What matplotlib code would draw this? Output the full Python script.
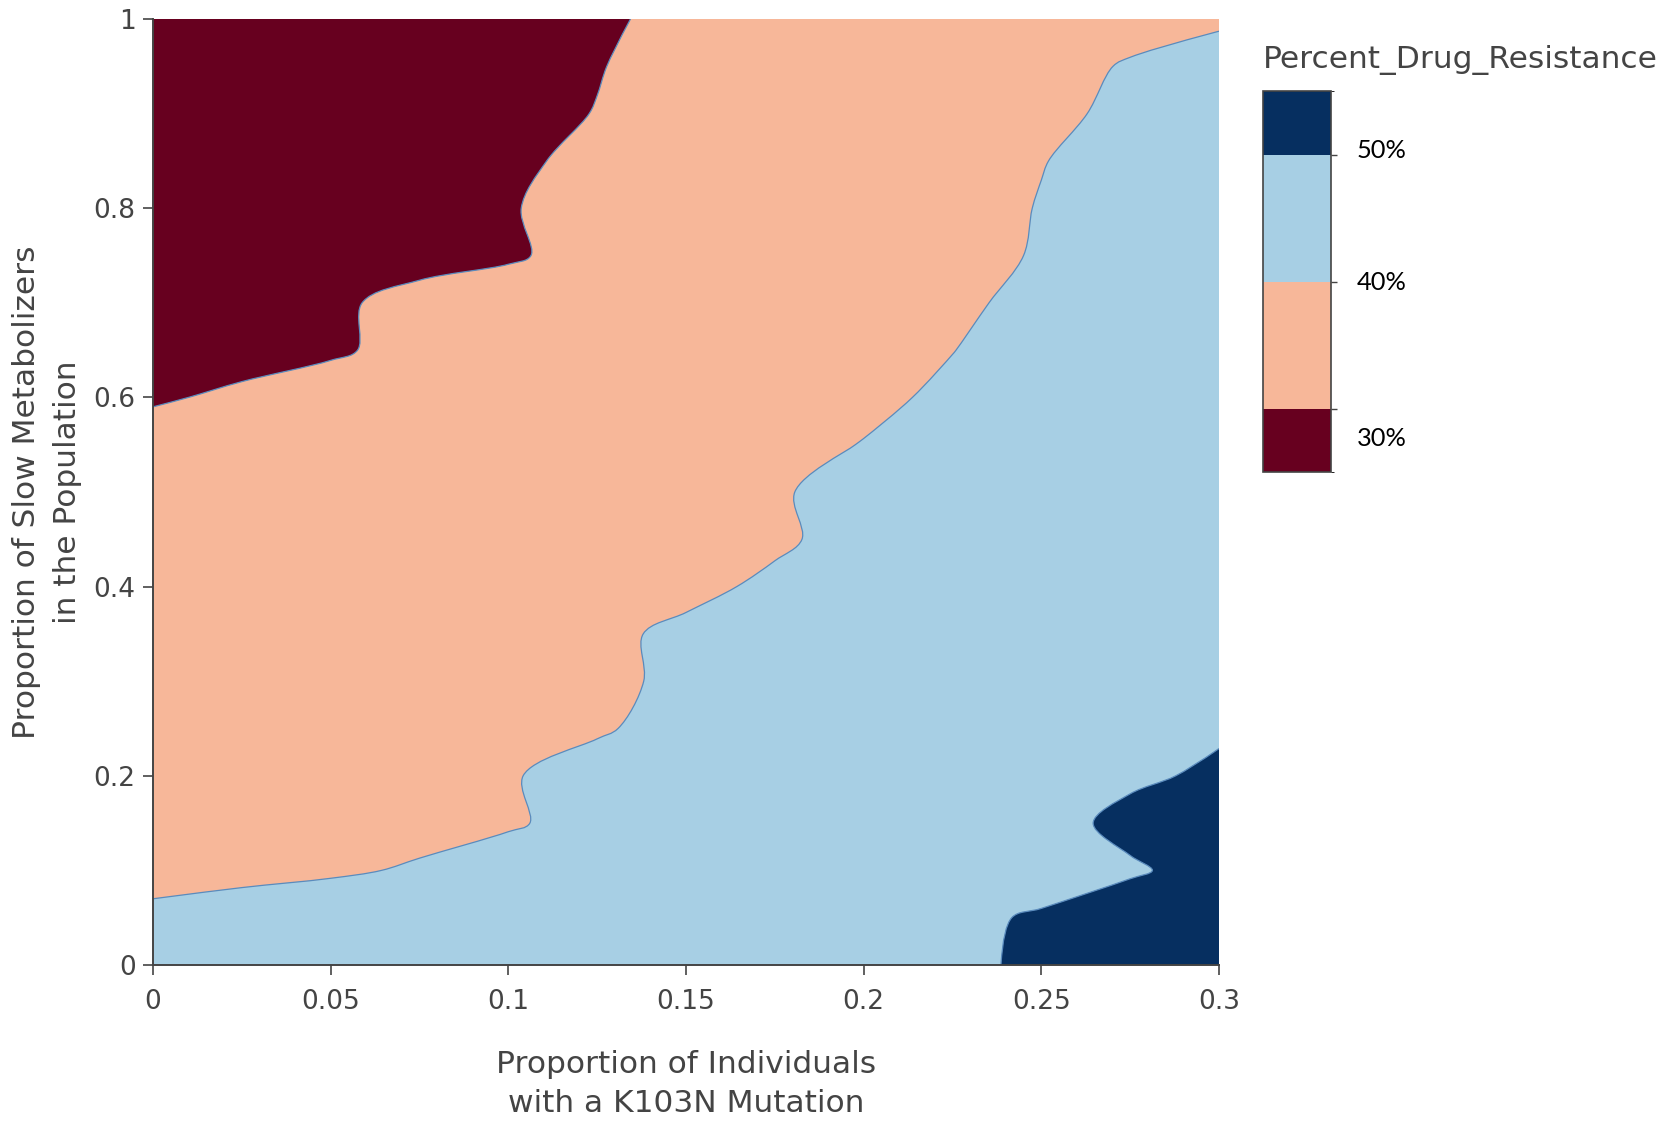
import numpy as np
import matplotlib
matplotlib.use("Agg")
import matplotlib.pyplot as plt
from matplotlib.path import Path
from matplotlib.patches import PathPatch
from matplotlib.colors import ListedColormap, BoundaryNorm
from matplotlib.colorbar import ColorbarBase
import contourpy

# Grid of simulation inputs
k103n = [0.0, 0.025, 0.05, 0.075, 0.1, 0.125, 0.15, 0.175, 0.2, 0.225, 0.25, 0.275, 0.3]
slow_metabolizers = [0.0, 0.05, 0.1, 0.15, 0.2, 0.25, 0.3, 0.35, 0.4, 0.45, 0.5,
                     0.55, 0.6, 0.65, 0.7, 0.75, 0.8, 0.85, 0.9, 0.95, 1.0]

# Percent drug resistance, one row per slow-metabolizer proportion
resistance = [
    [41.3, 42.2, 43.1, 44.0, 44.9, 45.8, 46.7, 47.6, 48.5, 49.4, 50.5, 51.7, 53.0],
    [40.4, 40.7, 41.0, 42.2, 43.4, 44.6, 45.7, 46.9, 48.1, 49.3, 50.35, 51.4, 52.4],
    [39.4, 39.6, 39.8, 40.15, 41.8, 43.0, 44.1, 45.2, 46.3, 47.4, 48.57, 49.7, 50.9],
    [38.5, 38.8, 39.2, 39.57, 39.6, 41.25, 42.8, 44.4, 46.0, 47.5, 49.09, 50.65, 51.0],
    [37.5, 38.1, 38.7, 39.3, 39.75, 41.25, 42.6, 44.0, 45.3, 46.7, 48.0, 49.6, 50.38],
    [36.6, 37.2, 37.9, 38.5, 39.2, 39.65, 41.14, 42.6, 44.0, 45.4, 46.9, 48.3, 49.72],
    [35.6, 36.4, 37.2, 38.0, 38.8, 39.56, 40.4, 42.0, 43.4, 44.8, 46.2, 47.7, 49.1],
    [34.6, 35.6, 36.6, 37.5, 38.5, 39.43, 40.53, 41.8, 43.1, 44.5, 45.8, 47.1, 48.4],
    [33.7, 34.6, 35.6, 36.5, 37.5, 38.4, 39.36, 40.48, 41.9, 43.4, 44.8, 46.3, 47.7],
    [32.7, 33.7, 34.7, 35.7, 36.7, 37.6, 38.6, 39.6, 40.91, 42.4, 44.0, 45.5, 47.1],
    [31.8, 32.9, 34.0, 35.2, 36.3, 37.4, 38.6, 39.71, 41.0, 42.4, 43.7, 45.1, 46.4],
    [30.8, 32.0, 33.1, 34.3, 35.5, 36.6, 37.8, 38.94, 40.11, 41.5, 42.9, 44.4, 45.8],
    [29.8, 30.3, 31.8, 33.3, 34.5, 35.7, 36.9, 38.1, 39.27, 40.6, 42.1, 43.6, 45.1],
    [28.9, 29.4, 29.5, 31.15, 32.6, 34.1, 35.5, 37.0, 38.5, 39.94, 41.44, 43.0, 44.4],
    [28.0, 28.8, 29.6, 30.73, 32.2, 33.6, 35.1, 36.5, 37.9, 39.4, 40.86, 42.3, 43.8],
    [27.0, 27.7, 28.4, 29.2, 29.5, 31.46, 33.2, 35.0, 36.8, 38.64, 40.34, 41.7, 43.1],
    [26.0, 27.0, 27.9, 28.9, 29.75, 31.47, 33.2, 34.9, 36.6, 38.33, 40.19, 41.25, 42.5],
    [25.1, 26.2, 27.2, 28.3, 29.4, 30.79, 32.6, 34.4, 36.1, 37.9, 39.87, 41.47, 41.8],
    [24.1, 25.3, 26.5, 27.7, 28.88, 30.11, 31.9, 33.7, 35.5, 37.3, 39.07, 40.87, 41.15],
    [23.2, 24.5, 25.8, 27.2, 28.5, 29.82, 31.48, 33.2, 34.9, 36.6, 38.33, 40.4, 40.49],
    [22.2, 23.7, 25.1, 26.6, 28.0, 29.46, 30.9, 32.4, 33.9, 35.4, 36.8, 38.3, 39.83],
]

contour_levels = [30, 40, 50]
band_colors = ["#67001f", "#f7b799", "#a7cfe4", "#062f60"]
colorbar_labels = ["30%", "40%", "50%"]

x_ticks = [0, 0.05, 0.1, 0.15, 0.2, 0.25, 0.3]
x_tick_labels = ["0", "0.05", "0.1", "0.15", "0.2", "0.25", "0.3"]
y_ticks = [0, 0.2, 0.4, 0.6, 0.8, 1.0]
y_tick_labels = ["0", "0.2", "0.4", "0.6", "0.8", "1"]

W, H = 1678, 1121
DPI = 100
AXIS_GREY = "#444444"
LINE_BLUE = "#5a8bbd"

fig = plt.figure(figsize=(W / DPI, H / DPI), dpi=DPI)
fig.patch.set_facecolor("white")


def fx(px):
    return px / W


def fy(py):
    return 1 - py / H


ax_left, ax_right, ax_top, ax_bottom = 153, 1219, 19, 965
ax = fig.add_axes([fx(ax_left), fy(ax_bottom), fx(ax_right) - fx(ax_left),
                   fy(ax_top) - fy(ax_bottom)])

xs = np.array(k103n, dtype=float)
ys = np.array(slow_metabolizers, dtype=float)
Z = np.array(resistance, dtype=float)
X, Y = np.meshgrid(xs, ys)
x0, x1, y0, y1 = xs.min(), xs.max(), ys.min(), ys.max()

# scale factors so the spline smoothing works in screen-like units
SX = (ax_right - ax_left) / (x1 - x0)
SY = (ax_bottom - ax_top) / (y1 - y0)

gen = contourpy.contour_generator(X, Y, Z, fill_type=contourpy.FillType.OuterOffset,
                                  line_type=contourpy.LineType.Separate)


def make_tangent(prev, this, nxt, smoothness=1.0):
    d1 = prev - this
    d2 = nxt - this
    d1a = np.hypot(*d1) ** 0.5
    d2a = np.hypot(*d2) ** 0.5
    num = (d2a * d2a * d1 - d1a * d1a * d2) * smoothness
    den1 = 3 * d2a * (d1a + d2a)
    den2 = 3 * d1a * (d1a + d2a)
    a = this + (num / den1 if den1 else 0)
    b = this - (num / den2 if den2 else 0)
    return a, b


def smooth_run(pts):
    """Bezier pieces (codes, vertices) going from pts[0] to pts[-1]."""
    p = np.column_stack([(pts[:, 0] - x0) * SX, (pts[:, 1] - y0) * SY])
    n = len(p)
    codes, verts = [], []
    if n == 2:
        codes.append(Path.LINETO)
        verts.append(p[1])
    else:
        tans = [make_tangent(p[i - 1], p[i], p[i + 1]) for i in range(1, n - 1)]
        codes += [Path.CURVE3, Path.CURVE3]
        verts += [tans[0][0], p[1]]
        for i in range(2, n - 1):
            codes += [Path.CURVE4] * 3
            verts += [tans[i - 2][1], tans[i - 1][0], p[i]]
        codes += [Path.CURVE3, Path.CURVE3]
        verts += [tans[n - 3][1], p[n - 1]]
    v = np.array(verts)
    v = np.column_stack([v[:, 0] / SX + x0, v[:, 1] / SY + y0])
    return codes, v


def on_edge(pt, eps=1e-9):
    return (abs(pt[0] - x0) < eps or abs(pt[0] - x1) < eps or
            abs(pt[1] - y0) < eps or abs(pt[1] - y1) < eps)


def smoothed_ring(ring):
    if np.allclose(ring[0], ring[-1]):
        ring = ring[:-1]
    flags = [on_edge(p) for p in ring]
    if not any(flags):
        closed = np.vstack([ring, ring[:2]])
        codes, v = smooth_run(closed)
        return [Path.MOVETO] + codes, np.vstack([closed[:1], v])
    start = flags.index(True)
    ring = np.roll(ring, -start, axis=0)
    flags = flags[start:] + flags[:start]
    ring = np.vstack([ring, ring[:1]])
    flags = flags + [True]
    codes, verts = [Path.MOVETO], [ring[0]]
    i = 0
    while i < len(ring) - 1:
        j = i + 1
        while not flags[j]:
            j += 1
        c, v = smooth_run(ring[i:j + 1])
        codes += c
        verts += list(v)
        i = j
    return codes, np.array(verts)


# filled bands, stacked from the lowest level upward
ax.set_facecolor(band_colors[0])
upper = Z.max() + 1
for level, color in zip(contour_levels, band_colors[1:]):
    pts_list, offs_list = gen.filled(level, upper)
    all_codes, all_verts = [], []
    for pts, offs in zip(pts_list, offs_list):
        for a, b in zip(offs[:-1], offs[1:]):
            c, v = smoothed_ring(pts[a:b])
            all_codes += c
            all_verts += list(v)
    if all_verts:
        patch = PathPatch(Path(np.array(all_verts), all_codes), facecolor=color,
                          edgecolor="none", lw=0, zorder=1)
        ax.add_patch(patch)

# contour lines
for level in contour_levels:
    for line in gen.lines(level):
        c, v = smooth_run(line)
        path = Path(np.vstack([line[:1], v]), [Path.MOVETO] + c)
        ax.add_patch(PathPatch(path, facecolor="none", edgecolor=LINE_BLUE,
                               lw=0.9, zorder=2))

ax.set_xlim(x0, x1)
ax.set_ylim(y0, y1)
ax.set_xticks(x_ticks)
ax.set_xticklabels(x_tick_labels)
ax.set_yticks(y_ticks)
ax.set_yticklabels(y_tick_labels)

for side in ("top", "right"):
    ax.spines[side].set_visible(False)
for side in ("left", "bottom"):
    ax.spines[side].set_color(AXIS_GREY)
    ax.spines[side].set_linewidth(1.4)
    ax.spines[side].set_zorder(3)

ax.tick_params(axis="both", direction="out", length=7.5, width=1.2,
               colors=AXIS_GREY, labelsize=19, labelcolor=AXIS_GREY)
ax.tick_params(axis="x", pad=10)
ax.tick_params(axis="y", pad=5)

fig.text(fx(686), fy(1084), "Proportion of Individuals\nwith a K103N Mutation",
         ha="center", va="center", fontsize=22.5, color=AXIS_GREY, linespacing=1.4)
fig.text(fx(47), fy(492), "Proportion of Slow Metabolizers\nin the Population",
         ha="center", va="center", rotation=90, fontsize=22.5, color=AXIS_GREY,
         linespacing=1.5)

# colour bar
cax = fig.add_axes([fx(1263), fy(472), fx(1331) - fx(1263), fy(91) - fy(472)])
bounds = [25] + contour_levels + [55]
cb = ColorbarBase(cax, cmap=ListedColormap(band_colors),
                  norm=BoundaryNorm(bounds, len(band_colors)),
                  boundaries=bounds, ticks=contour_levels, spacing="proportional")
cb.outline.set_edgecolor(AXIS_GREY)
cb.outline.set_linewidth(1.2)
cax.tick_params(length=4, width=1, colors=AXIS_GREY, labelright=False)

fig.text(fx(1263), fy(60), "Percent_Drug_Resistance", ha="left", va="center",
         fontsize=22.5, color=AXIS_GREY)

for label, py in zip(colorbar_labels, [438, 282, 151]):
    fig.text(fx(1357), fy(py), label, ha="left", va="center",
             fontsize=18.3, color="black", family=["Lato", "DejaVu Sans"])

fig.savefig("out.png", dpi=DPI, facecolor="white")
